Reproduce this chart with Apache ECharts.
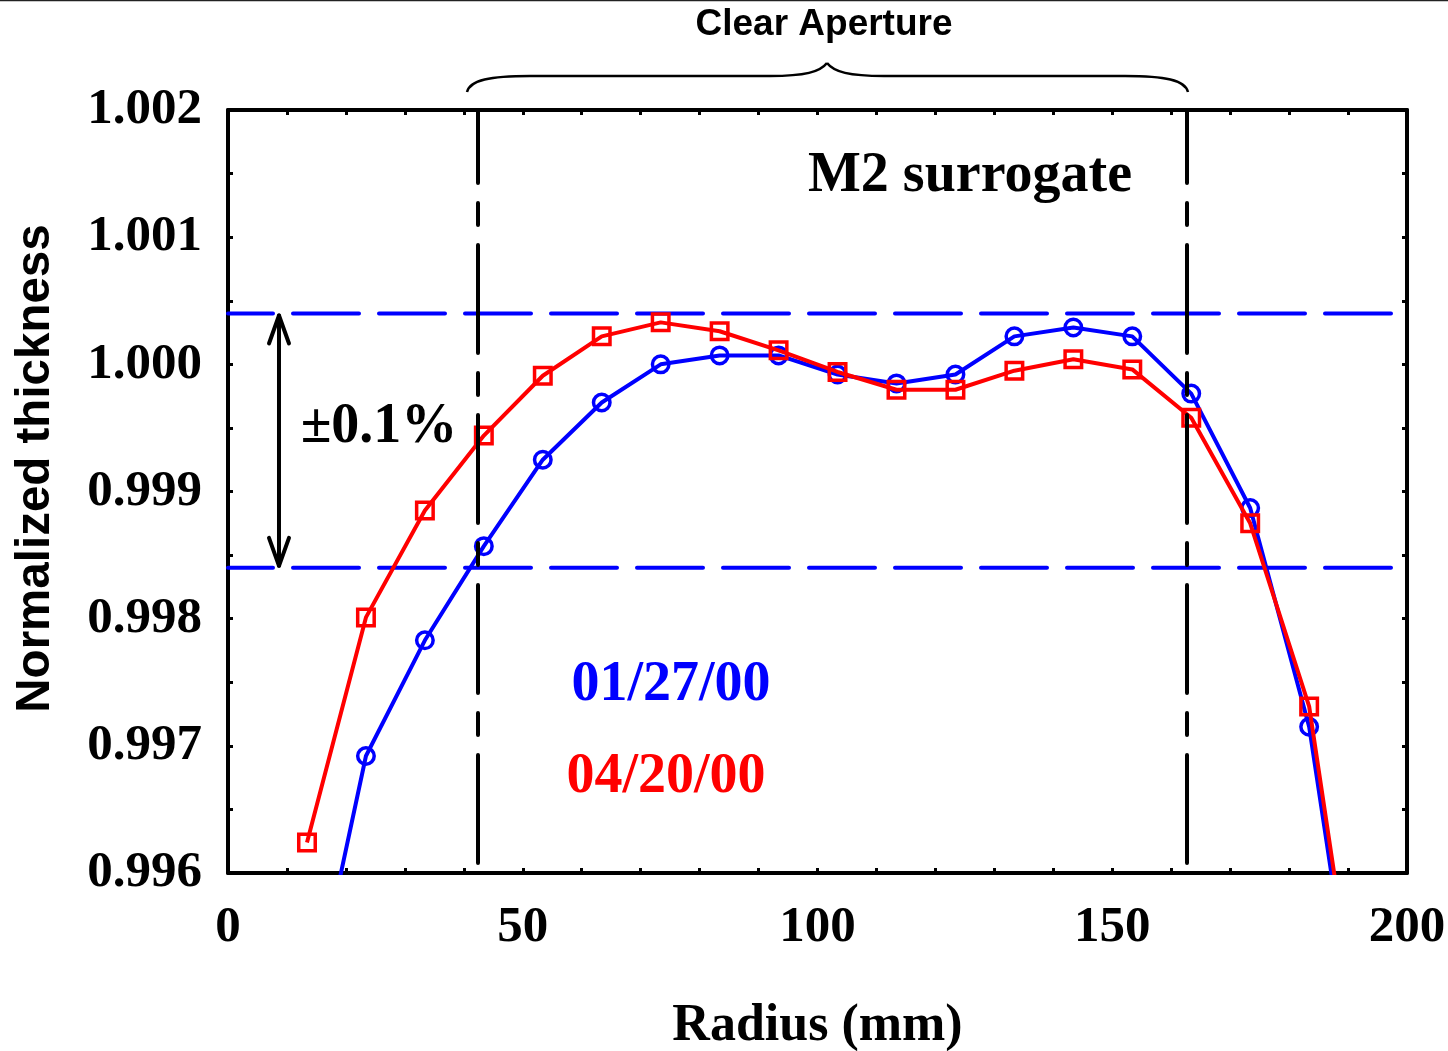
<!DOCTYPE html>
<html>
<head>
<meta charset="utf-8">
<script src="https://cdn.jsdelivr.net/npm/echarts@6/dist/echarts.min.js"></script>
<style>
  html, body { margin: 0; padding: 0; background: #fff; }
  #chart { width: 1448px; height: 1051px; }
</style>
</head>
<body>
<div id="chart"></div>
<script>
// radius positions (mm)
const radius = [13.4, 23.4, 33.4, 43.4, 53.4, 63.4, 73.4, 83.4, 93.4, 103.4,
                113.4, 123.4, 133.4, 143.4, 153.4, 163.4, 173.4, 183.4, 193.4];
// 01/27/00 measurement
const thick0127 = [0.99475, 0.99692, 0.99783, 0.99857, 0.99925, 0.99970, 1.00000, 1.00007, 1.00007, 0.99992,
                   0.99985, 0.99992, 1.00022, 1.00029, 1.00022, 0.99977, 0.99887, 0.99715, 0.99409];
// 04/20/00 measurement
const thick0420 = [0.99624, 0.99801, 0.99885, 0.99944, 0.99991, 1.00022, 1.00033, 1.00026, 1.00011, 0.99994,
                   0.99980, 0.99980, 0.99995, 1.00004, 0.99996, 0.99958, 0.99875, 0.99731, 0.99422];
// tolerance band (+-0.1%) and clear aperture edges
const band = [1.0004, 0.9984];
const aperture = [42.4, 162.7];
const arrowX = 8.65;

const serif = '"Liberation Serif", "Times New Roman", serif';
const sans = '"Liberation Sans", Arial, sans-serif';

const chart = echarts.init(document.getElementById('chart'));

const tickStyle = { show: true, inside: true, length: 5, lineStyle: { color: '#000', width: 3 } };
const lineStyleAxis = { show: true, onZero: false, lineStyle: { color: '#000', width: 4 } };
const braceStyle = { stroke: '#000', lineWidth: 2.5, fill: null };

// horizontal dashed band lines, one series each
const bandSeries = band.map(v => ({
  type: 'line', silent: true, symbol: 'none', clip: true,
  data: [[0, v], [200, v]],
  lineStyle: { color: '#0000ff', width: 4, type: [66, 20], dashOffset: 21, cap: 'round' },
  z: 2
}));

chart.setOption({
  backgroundColor: '#fff',
  animation: false,
  grid: { left: 228, top: 110, width: 1179, height: 763, outerBoundsMode: 'none', containLabel: false },
  xAxis: [{
    type: 'value', min: 0, max: 200, interval: 50,
    axisLine: lineStyleAxis,
    axisTick: tickStyle,
    minorTick: Object.assign({ splitNumber: 5 }, tickStyle),
    splitLine: { show: false },
    axisLabel: { margin: 29, color: '#000', fontFamily: serif, fontWeight: 'bold', fontSize: 51 },
    name: 'Radius (mm)', nameLocation: 'middle', nameGap: 128,
    nameTextStyle: { color: '#000', fontFamily: serif, fontWeight: 'bold', fontSize: 52 }
  }, {
    type: 'value', position: 'top', min: 0, max: 200, interval: 50,
    axisLine: lineStyleAxis,
    axisTick: tickStyle,
    minorTick: Object.assign({ splitNumber: 5 }, tickStyle),
    splitLine: { show: false }, axisLabel: { show: false }
  }],
  yAxis: [{
    type: 'value', min: 0.996, max: 1.002, interval: 0.001,
    axisLine: lineStyleAxis,
    axisTick: tickStyle,
    minorTick: Object.assign({ splitNumber: 2 }, tickStyle),
    splitLine: { show: false },
    axisLabel: {
      margin: 26, color: '#000', fontFamily: serif, fontWeight: 'bold', fontSize: 51,
      formatter: v => v.toFixed(3)
    },
    name: 'Normalized thickness', nameLocation: 'middle', nameGap: 168,
    nameTextStyle: { color: '#000', fontFamily: sans, fontWeight: 'bold', fontSize: 47.5, padding: [0, 0, 0, 46] }
  }, {
    type: 'value', position: 'right', min: 0.996, max: 1.002, interval: 0.001,
    axisLine: lineStyleAxis,
    axisTick: tickStyle,
    minorTick: Object.assign({ splitNumber: 2 }, tickStyle),
    splitLine: { show: false }, axisLabel: { show: false }
  }],
  series: bandSeries.concat([{
    name: '01/27/00', type: 'line',
    data: radius.map((r, i) => [r, thick0127[i]]),
    symbol: 'circle', symbolSize: 16.5, showAllSymbol: true, clip: true,
    lineStyle: { color: '#0000ff', width: 4 },
    itemStyle: { color: 'rgba(0,0,0,0)', borderColor: '#0000ff', borderWidth: 3.5 },
    z: 3
  }, {
    name: '04/20/00', type: 'line',
    data: radius.map((r, i) => [r, thick0420[i]]),
    symbol: 'rect', symbolSize: 16.5, showAllSymbol: true, clip: true,
    lineStyle: { color: '#ff0000', width: 4 },
    itemStyle: { color: 'rgba(0,0,0,0)', borderColor: '#ff0000', borderWidth: 3.5 },
    markLine: {
      silent: true, symbol: 'none', label: { show: false },
      lineStyle: { color: '#000', width: 4, type: [108, 20, 22, 20], dashOffset: -10, cap: 'round' },
      data: aperture.map(v => ({ xAxis: v }))
    },
    z: 4
  }, {
    // double arrow marking the +-0.1% band
    type: 'custom', silent: true,
    data: [[arrowX, band[0], band[1]]],
    encode: { x: 0, y: [1, 2] },
    renderItem: function (params, api) {
      const a = api.coord([api.value(0), api.value(1)]);
      const b = api.coord([api.value(0), api.value(2)]);
      const st = { stroke: '#000', lineWidth: 4, fill: null, lineCap: 'round', lineJoin: 'round' };
      return {
        type: 'group',
        children: [
          { type: 'line', shape: { x1: a[0], y1: a[1] + 2, x2: b[0], y2: b[1] - 2 }, style: st },
          { type: 'polyline', shape: { points: [[a[0] - 10, a[1] + 30], [a[0], a[1] + 2], [a[0] + 10, a[1] + 30]] }, style: st },
          { type: 'polyline', shape: { points: [[b[0] - 10, b[1] - 30], [b[0], b[1] - 2], [b[0] + 10, b[1] - 30]] }, style: st }
        ]
      };
    },
    z: 5
  }]),
  graphic: [
    { type: 'line', shape: { x1: 0, y1: 0.5, x2: 1448, y2: 0.5 }, style: { stroke: '#222', lineWidth: 1.5 } },
    // curly brace over the clear aperture
    { type: 'bezierCurve', shape: { x1: 467, y1: 92, cpx1: 470, cpy1: 80, cpx2: 490, cpy2: 76, x2: 530, y2: 76 }, style: braceStyle },
    { type: 'line', shape: { x1: 530, y1: 76, x2: 770, y2: 76 }, style: braceStyle },
    { type: 'bezierCurve', shape: { x1: 770, y1: 76, cpx1: 805, cpy1: 76, cpx2: 820, cpy2: 72, x2: 827, y2: 63 }, style: braceStyle },
    { type: 'bezierCurve', shape: { x1: 827, y1: 63, cpx1: 834, cpy1: 72, cpx2: 849, cpy2: 76, x2: 884, y2: 76 }, style: braceStyle },
    { type: 'line', shape: { x1: 884, y1: 76, x2: 1125, y2: 76 }, style: braceStyle },
    { type: 'bezierCurve', shape: { x1: 1125, y1: 76, cpx1: 1165, cpy1: 76, cpx2: 1185, cpy2: 80, x2: 1188, y2: 92 }, style: braceStyle },
    { type: 'text', x: 824, y: 25, style: { text: 'Clear Aperture', font: 'bold 37px ' + sans, fill: '#000', align: 'center', verticalAlign: 'middle' } },
    { type: 'text', x: 970, y: 177, style: { text: 'M2 surrogate', font: 'bold 56px ' + serif, fill: '#000', align: 'center', verticalAlign: 'middle' } },
    { type: 'text', x: 379, y: 428, style: { text: '±0.1%', font: 'bold 56px ' + serif, fill: '#000', align: 'center', verticalAlign: 'middle' } },
    { type: 'text', x: 671, y: 686, style: { text: '01/27/00', font: 'bold 56px ' + serif, fill: '#0000ff', align: 'center', verticalAlign: 'middle' } },
    { type: 'text', x: 666, y: 778, style: { text: '04/20/00', font: 'bold 56px ' + serif, fill: '#ff0000', align: 'center', verticalAlign: 'middle' } }
  ]
});
</script>
</body>
</html>
